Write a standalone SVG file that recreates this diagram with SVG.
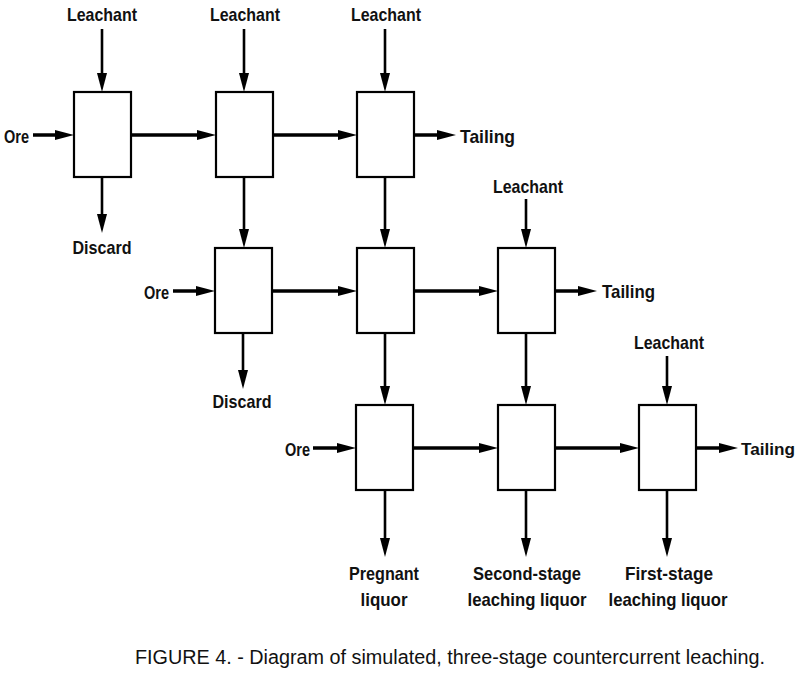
<svg xmlns="http://www.w3.org/2000/svg" width="800" height="674" viewBox="0 0 800 674">
<style>
.box{fill:#fff;stroke:#000;stroke-width:2.2}
.h{stroke:#000;stroke-width:3.5;fill:none}
.v{stroke:#000;stroke-width:2.6;fill:none}
.lbl{font-family:"Liberation Sans",Arial,sans-serif;font-size:19px;font-weight:bold;fill:#111}
.cap{font-family:"Liberation Sans",Arial,sans-serif;font-size:20px;fill:#111}
</style>
<defs>
<marker id="ah" markerUnits="userSpaceOnUse" viewBox="0 0 19 10" markerWidth="19" markerHeight="10" refX="9" refY="5" orient="auto">
<path d="M0,0 L19,5 L0,10 z" fill="#000"/>
</marker>
</defs>
<rect width="800" height="674" fill="#fff"/>
<g id="connectors">
<line class="h" x1="33" y1="135" x2="64" y2="135" marker-end="url(#ah)"/>
<line class="h" x1="131" y1="135" x2="206" y2="135" marker-end="url(#ah)"/>
<line class="h" x1="273" y1="135" x2="347" y2="135" marker-end="url(#ah)"/>
<line class="h" x1="414" y1="135" x2="446" y2="135" marker-end="url(#ah)"/>
<line class="h" x1="173" y1="291" x2="205" y2="291" marker-end="url(#ah)"/>
<line class="h" x1="272" y1="291" x2="347" y2="291" marker-end="url(#ah)"/>
<line class="h" x1="414" y1="291" x2="488" y2="291" marker-end="url(#ah)"/>
<line class="h" x1="555" y1="291" x2="587" y2="291" marker-end="url(#ah)"/>
<line class="h" x1="313" y1="448" x2="346" y2="448" marker-end="url(#ah)"/>
<line class="h" x1="413" y1="448" x2="488" y2="448" marker-end="url(#ah)"/>
<line class="h" x1="555" y1="448" x2="629" y2="448" marker-end="url(#ah)"/>
<line class="h" x1="696" y1="448" x2="728" y2="448" marker-end="url(#ah)"/>
<line class="v" x1="102" y1="29" x2="102" y2="82" marker-end="url(#ah)"/>
<line class="v" x1="244" y1="29" x2="244" y2="82" marker-end="url(#ah)"/>
<line class="v" x1="385" y1="29" x2="385" y2="82" marker-end="url(#ah)"/>
<line class="v" x1="526" y1="199" x2="526" y2="238" marker-end="url(#ah)"/>
<line class="v" x1="667" y1="356" x2="667" y2="395" marker-end="url(#ah)"/>
<line class="v" x1="102" y1="177" x2="102" y2="223" marker-end="url(#ah)"/>
<line class="v" x1="243" y1="333" x2="243" y2="379" marker-end="url(#ah)"/>
<line class="v" x1="244" y1="177" x2="244" y2="238" marker-end="url(#ah)"/>
<line class="v" x1="385" y1="177" x2="385" y2="238" marker-end="url(#ah)"/>
<line class="v" x1="385" y1="334" x2="385" y2="395" marker-end="url(#ah)"/>
<line class="v" x1="526" y1="334" x2="526" y2="395" marker-end="url(#ah)"/>
<line class="v" x1="385" y1="490" x2="385" y2="547" marker-end="url(#ah)"/>
<line class="v" x1="526" y1="490" x2="526" y2="547" marker-end="url(#ah)"/>
<line class="v" x1="667" y1="490" x2="667" y2="547" marker-end="url(#ah)"/>
</g>
<g id="stage-1-1"><rect class="box" x="74" y="92" width="57" height="85"/></g>
<g id="stage-1-2"><rect class="box" x="216" y="92" width="57" height="85"/></g>
<g id="stage-1-3"><rect class="box" x="357" y="92" width="57" height="85"/></g>
<g id="stage-2-2"><rect class="box" x="215" y="248" width="57" height="85"/></g>
<g id="stage-2-3"><rect class="box" x="357" y="248" width="57" height="85"/></g>
<g id="stage-2-4"><rect class="box" x="498" y="248" width="57" height="85"/></g>
<g id="stage-3-3"><rect class="box" x="356" y="405" width="57" height="85"/></g>
<g id="stage-3-4"><rect class="box" x="498" y="405" width="57" height="85"/></g>
<g id="stage-3-5"><rect class="box" x="639" y="405" width="57" height="85"/></g>
<g id="labels">
<text class="lbl" x="102" y="21" text-anchor="middle" textLength="70" lengthAdjust="spacingAndGlyphs">Leachant</text>
<text class="lbl" x="245" y="21" text-anchor="middle" textLength="70" lengthAdjust="spacingAndGlyphs">Leachant</text>
<text class="lbl" x="386" y="21" text-anchor="middle" textLength="70" lengthAdjust="spacingAndGlyphs">Leachant</text>
<text class="lbl" x="528" y="193" text-anchor="middle" textLength="70" lengthAdjust="spacingAndGlyphs">Leachant</text>
<text class="lbl" x="669" y="349" text-anchor="middle" textLength="70" lengthAdjust="spacingAndGlyphs">Leachant</text>
<text class="lbl" x="4" y="143" textLength="25" lengthAdjust="spacingAndGlyphs">Ore</text>
<text class="lbl" x="144" y="299" textLength="25" lengthAdjust="spacingAndGlyphs">Ore</text>
<text class="lbl" x="285" y="456" textLength="25" lengthAdjust="spacingAndGlyphs">Ore</text>
<text class="lbl" x="460" y="143" textLength="55" lengthAdjust="spacingAndGlyphs">Tailing</text>
<text class="lbl" x="602" y="298" textLength="53" lengthAdjust="spacingAndGlyphs">Tailing</text>
<text class="lbl" x="741" y="455" style="font-size:17px" textLength="54" lengthAdjust="spacingAndGlyphs">Tailing</text>
<text class="lbl" x="102" y="254" text-anchor="middle" textLength="59" lengthAdjust="spacingAndGlyphs">Discard</text>
<text class="lbl" x="242" y="408" text-anchor="middle" textLength="59" lengthAdjust="spacingAndGlyphs">Discard</text>
<text class="lbl" x="384" y="580" text-anchor="middle" textLength="70" lengthAdjust="spacingAndGlyphs">Pregnant</text>
<text class="lbl" x="384" y="606" text-anchor="middle" textLength="47" lengthAdjust="spacingAndGlyphs">liquor</text>
<text class="lbl" x="527" y="580" text-anchor="middle" textLength="108" lengthAdjust="spacingAndGlyphs">Second-stage</text>
<text class="lbl" x="527" y="606" text-anchor="middle" textLength="119" lengthAdjust="spacingAndGlyphs">leaching liquor</text>
<text class="lbl" x="669" y="580" text-anchor="middle" textLength="88" lengthAdjust="spacingAndGlyphs">First-stage</text>
<text class="lbl" x="668" y="606" text-anchor="middle" textLength="119" lengthAdjust="spacingAndGlyphs">leaching liquor</text>
</g>
<text class="cap" x="135" y="664" textLength="630" lengthAdjust="spacingAndGlyphs">FIGURE 4. - Diagram of simulated, three-stage countercurrent leaching.</text>
</svg>
